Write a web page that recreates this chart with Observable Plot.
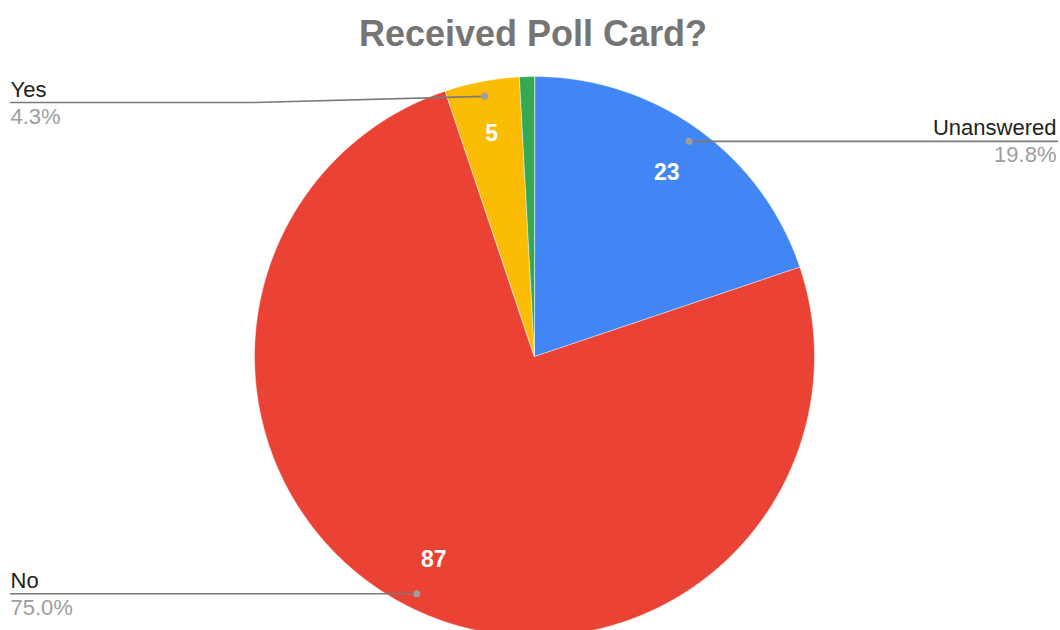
<!DOCTYPE html>
<html>
<head>
<meta charset="utf-8">
<script src="https://cdn.jsdelivr.net/npm/d3@7"></script>
<script src="https://cdn.jsdelivr.net/npm/@observablehq/plot@0.6"></script>
<style>
  html, body { margin: 0; padding: 0; background: #fff; }
  #wrap { position: relative; width: 1060px; height: 630px; overflow: hidden; }
  #title { position: absolute; left: 0; top: 16px; width: 1066px; text-align: center;
           font: bold 36px "Liberation Sans", Arial, sans-serif; line-height: 36px; color: #757575; }
  svg { font-family: "Liberation Sans", Arial, sans-serif; }
</style>
</head>
<body>
<div id="wrap">
  <div id="title">Received Poll Card?</div>
</div>
<script>
// ---- data ----
const categories = ["Unanswered", "No", "Yes", "Other"];
const counts = [23, 87, 5, 1];
const colors = ["#4285F4", "#EA4335", "#FBBC04", "#34A853"];

// ---- layout (pixels) ----
const W = 1060, H = 630;
const cx = 534, cy = 356, R = 280;

const total = d3.sum(counts);
const pie = d3.pie().sort(null).value(d => d.count)(
  categories.map((name, i) => ({name, count: counts[i], color: colors[i]}))
);

// polar helper in data units (radius 1 = pie radius); angle clockwise from 12 o'clock
const pt = (a, r) => [r * Math.sin(a), r * Math.cos(a)];

// slice polygons
const slicePts = [];
for (const s of pie) {
  slicePts.push({name: s.data.name, x: 0, y: 0});
  const n = Math.max(2, Math.ceil((s.endAngle - s.startAngle) / (Math.PI / 360)));
  for (let k = 0; k <= n; k++) {
    const a = s.startAngle + (s.endAngle - s.startAngle) * k / n;
    const [x, y] = pt(a, 1);
    slicePts.push({name: s.data.name, x, y});
  }
}

// value labels inside slices
const valueLabels = pie.map(s => {
  const a = (s.startAngle + s.endAngle) / 2;
  const [x, y] = pt(a, 0.81);
  return {name: s.data.name, x, y, text: String(s.data.count), show: s.data.count / total > 0.02};
}).filter(d => d.show);

// leader lines and outside labels
const toX = px => (px - cx) / R;
const toY = py => (cy - py) / R;
const leftX = toX(10), rightX = toX(W - 3);
const minLineY = toY(102);
const leaders = [], dots = [], outLabels = [];
for (const s of pie) {
  if (s.data.count / total <= 0.02) continue;
  const a = (s.startAngle + s.endAngle) / 2;
  const [dx, dy] = pt(a, 0.946);
  const right = a < Math.PI;
  const ly = Math.min(dy, minLineY);
  const endX = right ? rightX : leftX;
  const bendX = right ? 1 : -1;
  leaders.push({name: s.data.name, x: dx, y: dy});
  if (ly !== dy) leaders.push({name: s.data.name, x: bendX, y: ly});
  leaders.push({name: s.data.name, x: endX, y: ly});
  dots.push({x: dx, y: dy});
  outLabels.push({x: right ? toX(W - 4) : leftX, y: ly, anchor: right ? "end" : "start",
    name: s.data.name, pct: (s.data.count / total * 100).toFixed(1) + "%"});
}

const chart = Plot.plot({
  width: W, height: H,
  margin: 0,
  x: {domain: [toX(0), toX(W)], range: [0, W], axis: null},
  y: {domain: [toY(0), toY(H)], range: [0, H], axis: null},
  color: {domain: categories, range: colors},
  style: {background: "transparent", fontFamily: "Liberation Sans, Arial, sans-serif"},
  marks: [
    Plot.line(slicePts, {x: "x", y: "y", z: "name", fill: "name", stroke: "white", strokeWidth: 0.5, curve: "linear-closed"}),
    Plot.text(valueLabels, {x: "x", y: "y", text: "text", fill: "white", fontSize: 23, fontWeight: "bold", lineAnchor: "middle", textAnchor: "middle"}),
    Plot.line(leaders, {x: "x", y: "y", z: "name", stroke: "#7a7a7a", strokeWidth: 1.6}),
    Plot.dot(dots, {x: "x", y: "y", r: 3.5, fill: "#9e9e9e"}),
    Plot.text(outLabels.filter(d => d.anchor === "start"), {x: "x", y: "y", text: "name", fill: "#222", fontSize: 22, textAnchor: "start", lineAnchor: "bottom", dy: -6}),
    Plot.text(outLabels.filter(d => d.anchor === "end"), {x: "x", y: "y", text: "name", fill: "#222", fontSize: 22, textAnchor: "end", lineAnchor: "bottom", dy: -6}),
    Plot.text(outLabels.filter(d => d.anchor === "start"), {x: "x", y: "y", text: "pct", fill: "#9e9e9e", fontSize: 22, textAnchor: "start", lineAnchor: "bottom", dy: 21}),
    Plot.text(outLabels.filter(d => d.anchor === "end"), {x: "x", y: "y", text: "pct", fill: "#9e9e9e", fontSize: 22, textAnchor: "end", lineAnchor: "bottom", dy: 21})
  ]
});
chart.style.position = "absolute";
chart.style.left = "0";
chart.style.top = "0";
const wrap = document.getElementById("wrap");
wrap.insertBefore(chart, wrap.firstChild);
</script>
</body>
</html>
